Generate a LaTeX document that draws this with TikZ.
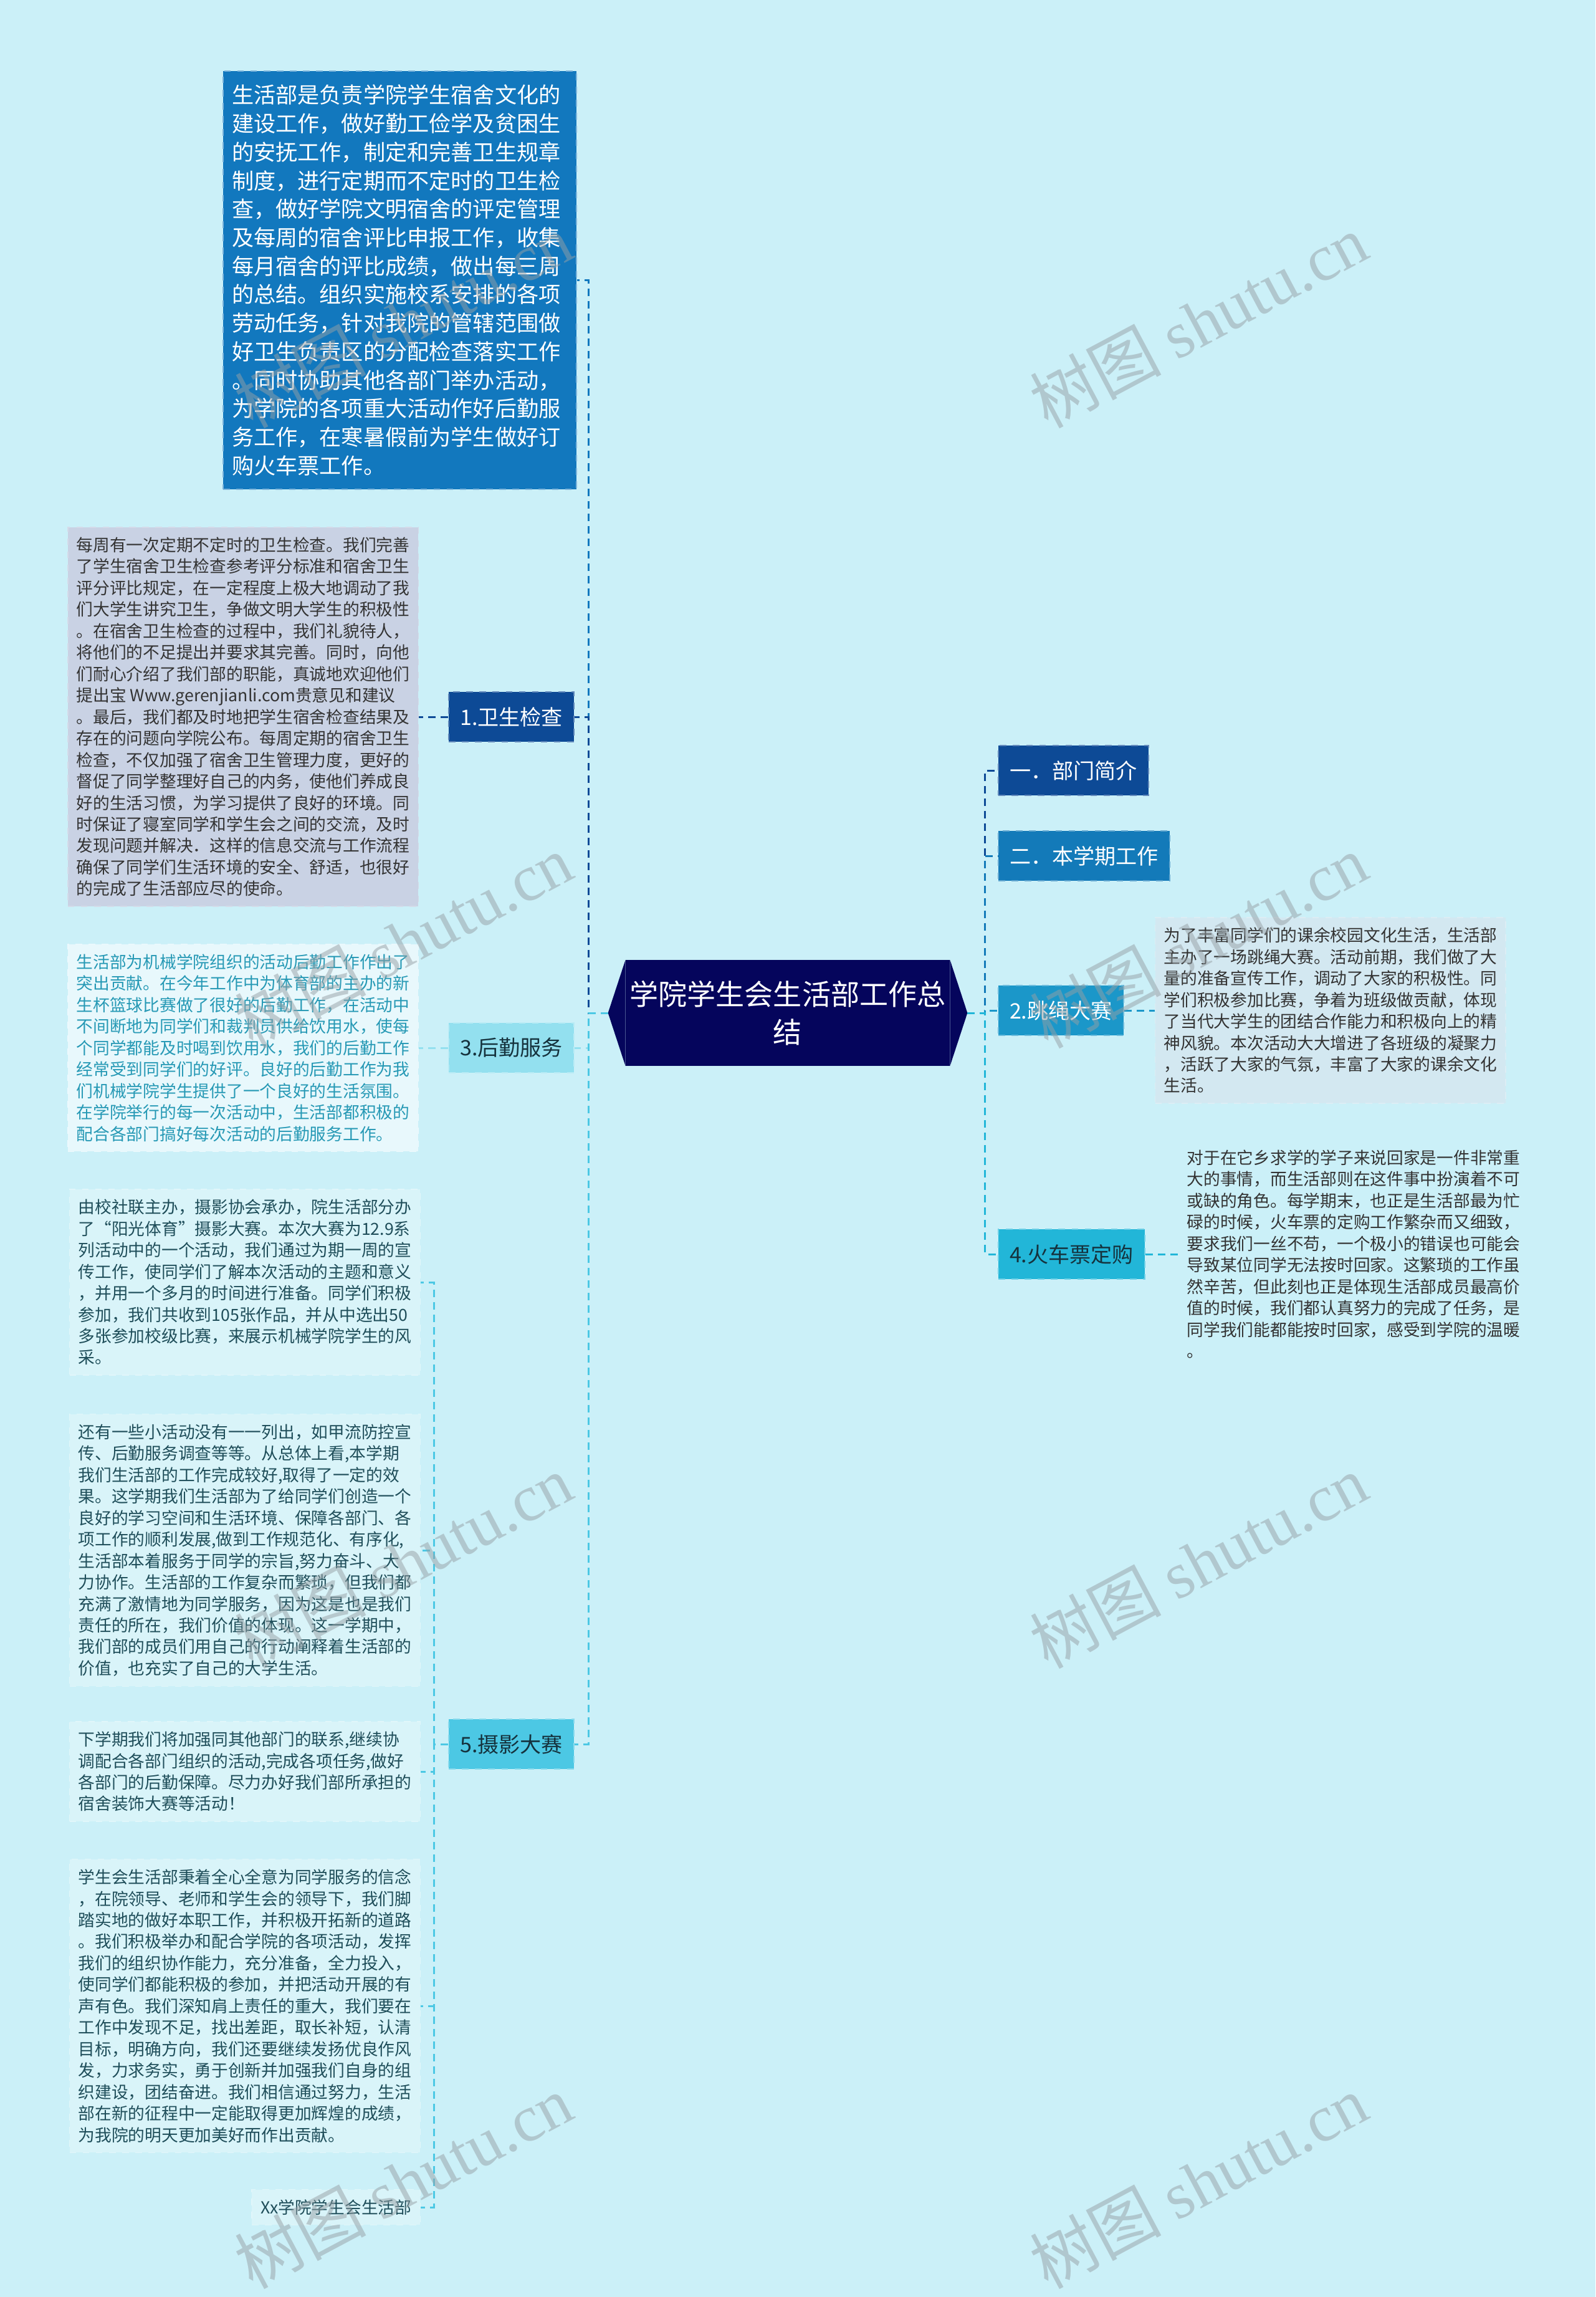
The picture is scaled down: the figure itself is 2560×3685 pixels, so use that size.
\documentclass[tikz,border=0pt]{standalone}
\usepackage{fontspec}
\setmainfont{Noto Sans CJK SC}
\newfontfamily\wmcjk{Noto Sans CJK SC}
\newfontfamily\wmlatin{Liberation Serif}
\usetikzlibrary{positioning,calc}

\definecolor{bgcol}{HTML}{CBF0F8}
\definecolor{rootcol}{HTML}{05055C}
\definecolor{navyB}{HTML}{0D4A96}
\definecolor{blueA}{HTML}{1278BE}
\definecolor{blueB}{HTML}{137AB9}
\definecolor{blueC}{HTML}{1B97C9}
\definecolor{cyanC}{HTML}{22B6D8}
\definecolor{lcyan}{HTML}{93E0EF}
\definecolor{cyanB}{HTML}{4CC8E4}
\definecolor{grayD}{HTML}{C9D2E4}
\definecolor{paleD}{HTML}{E8F8FC}
\definecolor{photoD}{HTML}{D9F4F9}
\definecolor{jumpD}{HTML}{D3E8F1}
\definecolor{grayT}{HTML}{333333}
\definecolor{tealT}{HTML}{2699B5}
\definecolor{photoT}{HTML}{1F4E5A}
\definecolor{darkT}{HTML}{15323D}
\definecolor{wmcol}{RGB}{150,160,165}

\begin{document}
\begin{tikzpicture}[
    x=0.01cm, y=-0.01cm,
    link/.style={draw=#1, line width=0.03cm, dash pattern=on 0.12cm off 0.08cm},
    root/.style={fill=rootcol, text=white, minimum width=5.19cm, minimum height=1.69cm, align=center, inner sep=0pt, font=\fontsize{13.1pt}{17.4pt}\selectfont},
    branch/.style={fill=#1, draw=#1!65!white, dashed, line width=0.02cm, minimum height=0.8cm, inner xsep=0.18cm, font=\fontsize{9.7pt}{12pt}\selectfont},
    intro/.style={fill=blueA, draw=blueA!55!white, dashed, line width=0.02cm, text=white, text width=5.39cm, align=left, inner xsep=0.14cm, inner ysep=0.22cm, font=\fontsize{10pt}{13pt}\selectfont},
    detail/.style={fill=#1, draw=#1!80!white, dashed, line width=0.015cm, align=left, inner xsep=0.14cm, inner ysep=0.16cm, font=\fontsize{7.6pt}{9.8pt}\selectfont},
    watermark/.style={rotate=28, text=wmcol, text opacity=0.5, inner sep=0pt, font=\fontsize{30pt}{30pt}\selectfont}
]

\useasboundingbox (0,0) rectangle (2560,3685);
\fill[bgcol] (0,0) rectangle (2560,3685);

% centre
\node[root] (root) at (1264,1625) {学院学生会生活部工作总\\结};
\coordinate (rootL) at ($(root.west)+(-28,0)$);
\coordinate (rootR) at ($(root.east)+(28,0)$);
\fill[rootcol] (root.north west) -- (rootL) -- (root.south west) -- cycle;
\fill[rootcol] (root.north east) -- (rootR) -- (root.south east) -- cycle;

% left side
\node[intro, anchor=north west] (intro) at (357,113) {生活部是负责学院学生宿舍文化的\\建设工作，做好勤工俭学及贫困生\\的安抚工作，制定和完善卫生规章\\制度，进行定期而不定时的卫生检\\查，做好学院文明宿舍的评定管理\\及每周的宿舍评比申报工作，收集\\每月宿舍的评比成绩，做出每三周\\的总结。组织实施校系安排的各项\\劳动任务，针对我院的管辖范围做\\好卫生负责区的分配检查落实工作\\。同时协助其他各部门举办活动，\\为学院的各项重大活动作好后勤服\\务工作，在寒暑假前为学生做好订\\购火车票工作。};
\node[branch=navyB, text=white, anchor=east] (wsjc) at (922,1150) {1.卫生检查};
\node[branch=lcyan, text=darkT, anchor=east] (hqfw) at (922,1681) {3.后勤服务};
\node[branch=cyanB, text=darkT, anchor=east] (sydz) at (922,2798) {5.摄影大赛};

\node[detail=grayD, text=grayT, left=0.47cm of wsjc] (wsjcD) {每周有一次定期不定时的卫生检查。我们完善\\了学生宿舍卫生检查参考评分标准和宿舍卫生\\评分评比规定，在一定程度上极大地调动了我\\们大学生讲究卫生，争做文明大学生的积极性\\。在宿舍卫生检查的过程中，我们礼貌待人，\\将他们的不足提出并要求其完善。同时，向他\\们耐心介绍了我们部的职能，真诚地欢迎他们\\提出宝 Www.gerenjianli.com贵意见和建议\\。最后，我们都及时地把学生宿舍检查结果及\\存在的问题向学院公布。每周定期的宿舍卫生\\检查，不仅加强了宿舍卫生管理力度，更好的\\督促了同学整理好自己的内务，使他们养成良\\好的生活习惯，为学习提供了良好的环境。同\\时保证了寝室同学和学生会之间的交流，及时\\发现问题并解决．这样的信息交流与工作流程\\确保了同学们生活环境的安全、舒适，也很好\\的完成了生活部应尽的使命。};
\node[detail=paleD, text=tealT, left=0.47cm of hqfw] (hqfwD) {生活部为机械学院组织的活动后勤工作作出了\\突出贡献。在今年工作中为体育部的主办的新\\生杯篮球比赛做了很好的后勤工作，在活动中\\不间断地为同学们和裁判员供给饮用水，使每\\个同学都能及时喝到饮用水，我们的后勤工作\\经常受到同学们的好评。良好的后勤工作为我\\们机械学院学生提供了一个良好的生活氛围。\\在学院举行的每一次活动中，生活部都积极的\\配合各部门搞好每次活动的后勤服务工作。};

\node[detail=photoD, text=photoT, anchor=east] (syA) at (675,2057) {由校社联主办，摄影协会承办，院生活部分办\\了“阳光体育”摄影大赛。本次大赛为12.9系\\列活动中的一个活动，我们通过为期一周的宣\\传工作，使同学们了解本次活动的主题和意义\\，并用一个多月的时间进行准备。同学们积极\\参加，我们共收到105张作品，并从中选出50\\多张参加校级比赛，来展示机械学院学生的风\\采。};
\node[detail=photoD, text=photoT, anchor=east] (syB) at (675,2487) {还有一些小活动没有一一列出，如甲流防控宣\\传、后勤服务调查等等。从总体上看,本学期\\我们生活部的工作完成较好,取得了一定的效\\果。这学期我们生活部为了给同学们创造一个\\良好的学习空间和生活环境、保障各部门、各\\项工作的顺利发展,做到工作规范化、有序化,\\生活部本着服务于同学的宗旨,努力奋斗、大\\力协作。生活部的工作复杂而繁琐，但我们都\\充满了激情地为同学服务，因为这是也是我们\\责任的所在，我们价值的体现。这一学期中，\\我们部的成员们用自己的行动阐释着生活部的\\价值，也充实了自己的大学生活。};
\node[detail=photoD, text=photoT, anchor=east] (syC) at (675,2842) {下学期我们将加强同其他部门的联系,继续协\\调配合各部门组织的活动,完成各项任务,做好\\各部门的后勤保障。尽力办好我们部所承担的\\宿舍装饰大赛等活动！};
\node[detail=photoD, text=photoT, anchor=east] (syD) at (675,3218) {学生会生活部秉着全心全意为同学服务的信念\\，在院领导、老师和学生会的领导下，我们脚\\踏实地的做好本职工作，并积极开拓新的道路\\。我们积极举办和配合学院的各项活动，发挥\\我们的组织协作能力，充分准备，全力投入，\\使同学们都能积极的参加，并把活动开展的有\\声有色。我们深知肩上责任的重大，我们要在\\工作中发现不足，找出差距，取长补短，认清\\目标，明确方向，我们还要继续发扬优良作风\\发，力求务实，勇于创新并加强我们自身的组\\织建设，团结奋进。我们相信通过努力，生活\\部在新的征程中一定能取得更加辉煌的成绩，\\为我院的明天更加美好而作出贡献。};
\node[detail=photoD, text=photoT, anchor=east] (syE) at (675,3541) {Xx学院学生会生活部};

% right side
\node[branch=navyB, text=white, anchor=west] (bmjj) at (1601,1236) {一．部门简介};
\node[branch=blueB, text=white, anchor=west] (bxq) at (1601,1373) {二．本学期工作};
\node[branch=blueC, text=white, anchor=west] (tsds) at (1601,1621) {2.跳绳大赛};
\node[branch=cyanC, text=darkT, anchor=west] (hcp) at (1601,2012) {4.火车票定购};

\node[detail=jumpD, text=grayT, right=0.49cm of tsds] (tsdsD) {为了丰富同学们的课余校园文化生活，生活部\\主办了一场跳绳大赛。活动前期，我们做了大\\量的准备宣传工作，调动了大家的积极性。同\\学们积极参加比赛，争着为班级做贡献，体现\\了当代大学生的团结合作能力和积极向上的精\\神风貌。本次活动大大增进了各班级的凝聚力\\，活跃了大家的气氛，丰富了大家的课余文化\\生活。};
\node[detail=bgcol, draw=none, text=grayT, right=0.52cm of hcp] (hcpD) {对于在它乡求学的学子来说回家是一件非常重\\大的事情，而生活部则在这件事中扮演着不可\\或缺的角色。每学期末，也正是生活部最为忙\\碌的时候，火车票的定购工作繁杂而又细致，\\要求我们一丝不苟，一个极小的错误也可能会\\导致某位同学无法按时回家。这繁琐的工作虽\\然辛苦，但此刻也正是体现生活部成员最高价\\值的时候，我们都认真努力的完成了任务，是\\同学我们能都能按时回家，感受到学院的温暖\\。};

% connectors
\draw[link=blueA] (rootL) -- ++(-31,0) |- (intro.east);
\draw[link=navyB] (rootL) -- ++(-31,0) |- (wsjc.east);
\draw[link=lcyan] (rootL) -- ++(-31,0) |- (hqfw.east);
\draw[link=cyanB] (rootL) -- ++(-31,0) |- (sydz.east);
\draw[link=navyB] (rootR) -- ++(28,0) |- (bmjj.west);
\draw[link=blueB] (rootR) -- ++(28,0) |- (bxq.west);
\draw[link=blueC] (rootR) -- ++(28,0) |- (tsds.west);
\draw[link=cyanC] (rootR) -- ++(28,0) |- (hcp.west);

\draw[link=navyB] (wsjc.west) -- (wsjcD.east);
\draw[link=lcyan] (hqfw.west) -- (hqfwD.east);
\draw[link=blueC] (tsds.east) -- (tsdsD.west);
\draw[link=cyanC] (hcp.east) -- (hcpD.west);
\foreach \k in {syA,syB,syC,syD,syE}
  \draw[link=cyanB] (sydz.west) -- ++(-23,0) |- (\k.east);

% watermark
\foreach \wy in {515,1510,2505,3500} {
  \node[watermark] (wmL\wy) at (647,\wy) {{\wmcjk 树图} {\wmlatin shutu.cn}};
  \node[watermark] (wmR\wy) at (1923,\wy) {{\wmcjk 树图} {\wmlatin shutu.cn}};
}

\end{tikzpicture}
\end{document}
